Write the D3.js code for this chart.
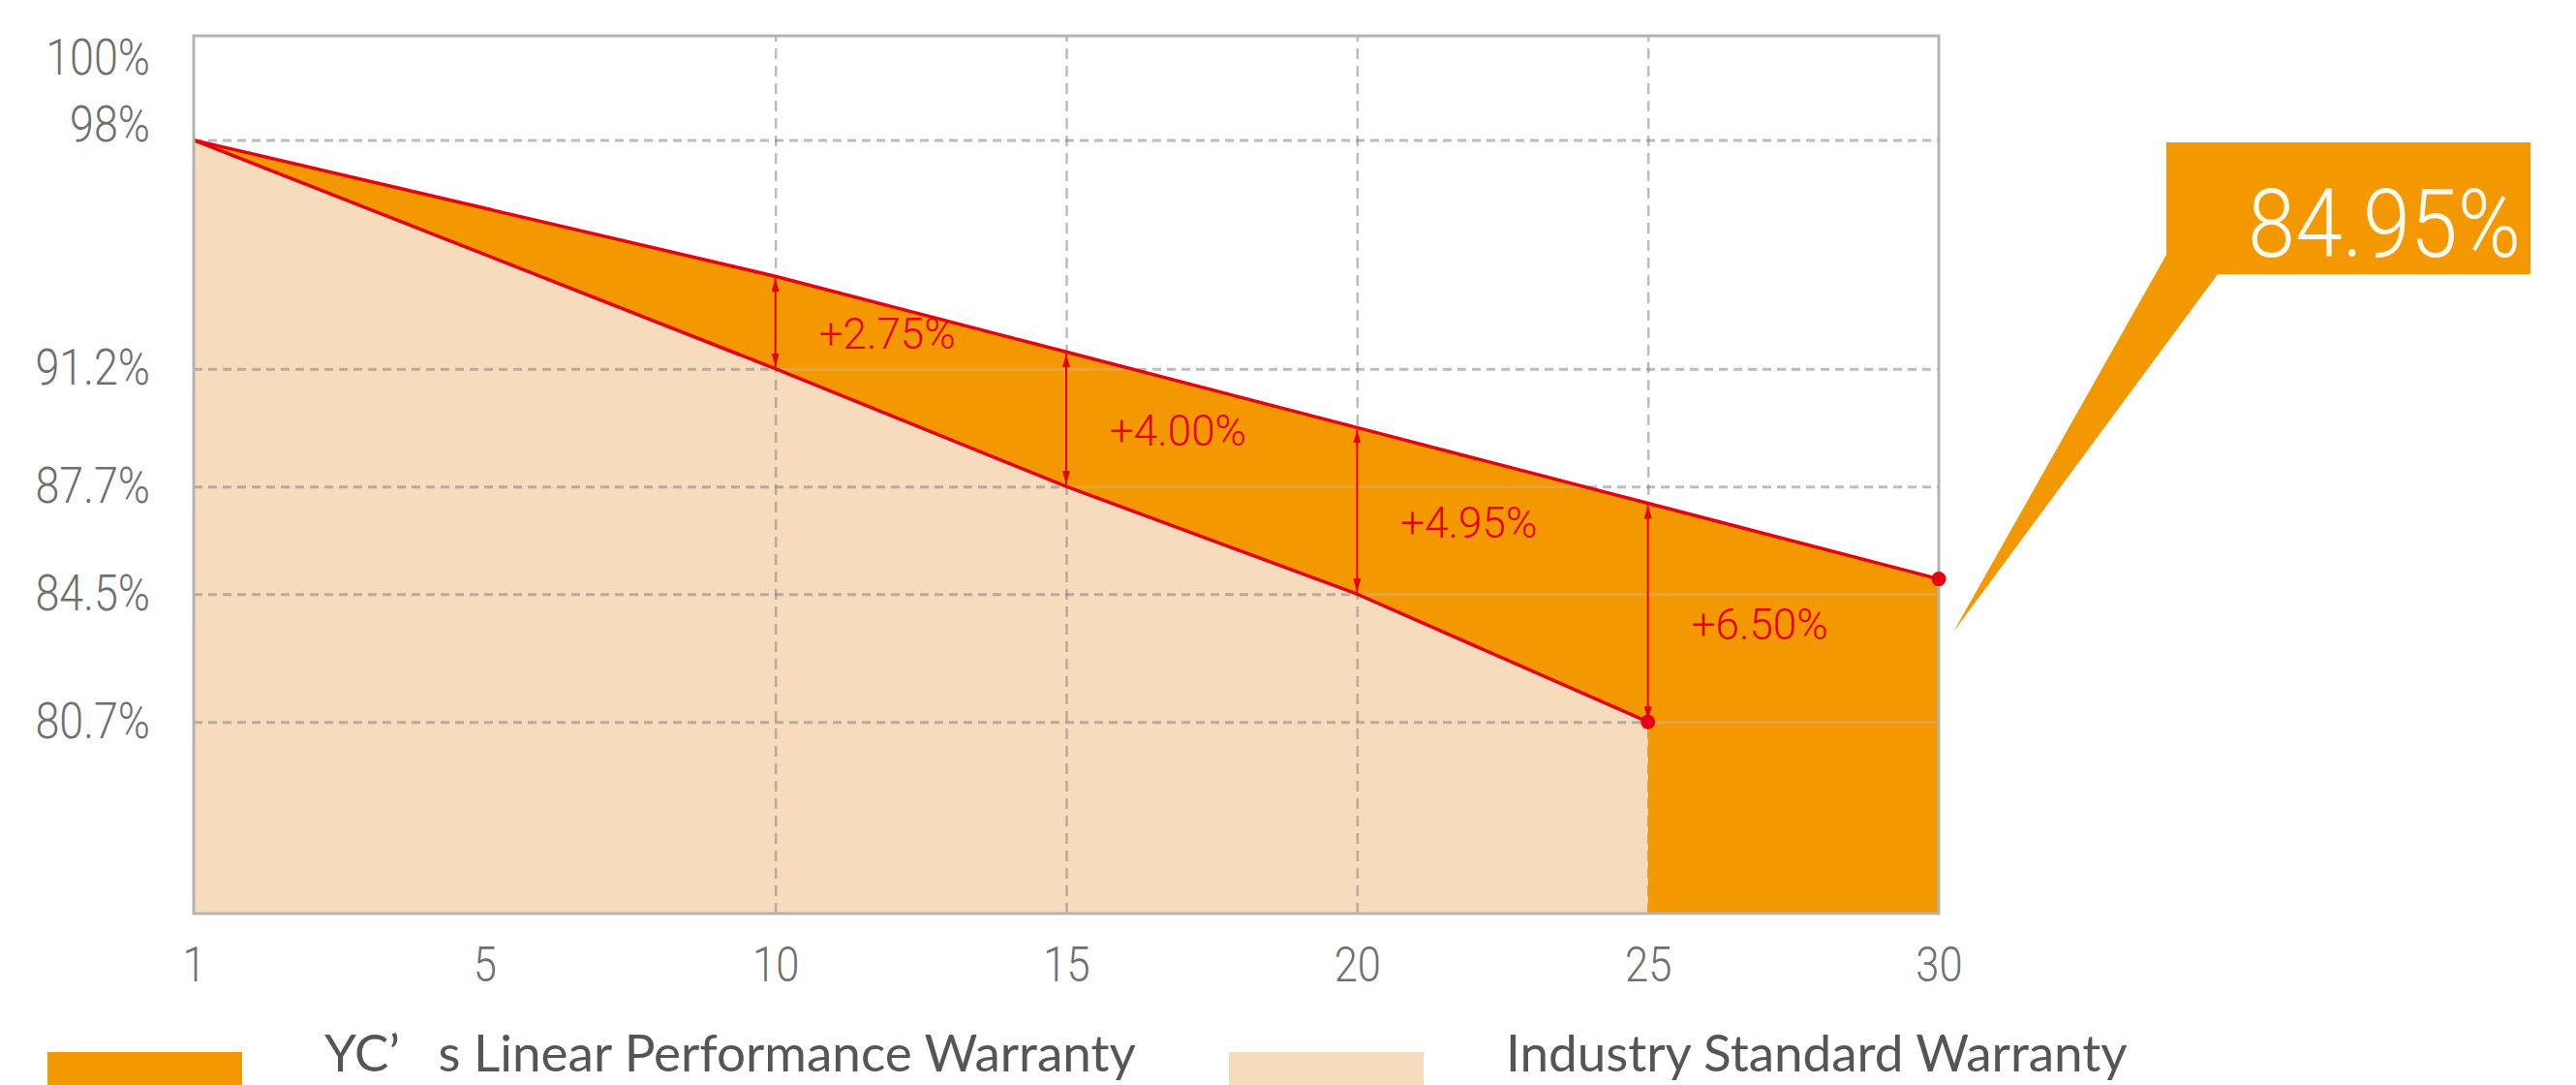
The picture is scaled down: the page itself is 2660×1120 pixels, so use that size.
<!DOCTYPE html>
<html>
<head>
<meta charset="utf-8">
<script src="https://cdn.jsdelivr.net/npm/d3@7"></script>
<style>
  html, body { margin: 0; padding: 0; background: #ffffff; }
  svg { display: block; }
</style>
</head>
<body>
<svg id="chart" width="2660" height="1120"></svg>
<script>
// ---------------- data ----------------
const years = ["1", "5", "10", "15", "20", "25", "30"];
const ycYears = ["1", "10", "15", "20", "25", "30"];
const ycValues = [98, 93.95, 91.7, 89.45, 87.2, 84.95];
const industryYears = ["1", "10", "15", "20", "25"];
const industryValues = [98, 91.2, 87.7, 84.5, 80.7];
const yTickValues = [100, 98, 91.2, 87.7, 84.5, 80.7];
const yGridValues = [98, 91.2, 87.7, 84.5, 80.7];
const xGridYears = ["10", "15", "20", "25"];
const gapYears = ["10", "15", "20", "25"];
const gapLabels = ["+2.75%", "+4.00%", "+4.95%", "+6.50%"];
const calloutLabel = "84.95%";
const legendLabels = ["YC\u2019\u2003s Linear Performance Warranty", "Industry Standard Warranty"];

// ---------------- styling ----------------
const ORANGE = "#F39800";
const PEACH = "#F6DCBC";
const RED = "#E60012";
const TICK_GRAY = "#6f6f6f";
const LEGEND_GRAY = "#555555";

const plot = { left: 200, top: 37, right: 2002, bottom: 943 };

const svg = d3.select("#chart");

const x = d3.scalePoint().domain(years).range([plot.left, plot.right]);
const y = d3.scaleLinear().domain([75, 101.1]).range([plot.bottom, plot.top]);

const yc = ycYears.map((yr, i) => ({ year: yr, v: ycValues[i] }));
const ind = industryYears.map((yr, i) => ({ year: yr, v: industryValues[i] }));
const ycByYear = new Map(yc.map(d => [d.year, d.v]));
const indByYear = new Map(ind.map(d => [d.year, d.v]));

function squeeze(sel, k) {
  sel.each(function () {
    const L = this.getComputedTextLength();
    this.setAttribute("textLength", L * k);
    this.setAttribute("lengthAdjust", "spacingAndGlyphs");
  });
}

// ---------------- industry (peach) area ----------------
const areaInd = d3.area()
  .x(d => x(d.year))
  .y0(plot.bottom)
  .y1(d => y(d.v));
svg.append("path")
  .datum(ind)
  .attr("d", areaInd)
  .attr("fill", PEACH);

// ---------------- gridlines ----------------
function drawGrid(opacity) {
  const gridG = svg.append("g");
  gridG.append("g")
    .attr("transform", `translate(${plot.left},0)`)
    .call(d3.axisLeft(y).tickValues(yGridValues).tickSize(-(plot.right - plot.left)).tickFormat(""))
    .call(g => g.select(".domain").remove())
    .call(g => g.selectAll("line")
      .attr("stroke", "#7a7a7a")
      .attr("stroke-opacity", opacity)
      .attr("stroke-width", 3)
      .attr("stroke-dasharray", "9,6"));
  gridG.append("g")
    .attr("transform", `translate(0,${plot.bottom})`)
    .call(d3.axisBottom(x).tickValues(xGridYears).tickSize(-(plot.bottom - plot.top)).tickFormat(""))
    .call(g => g.select(".domain").remove())
    .call(g => g.selectAll("line")
      .attr("stroke", "#7a7a7a")
      .attr("stroke-opacity", opacity)
      .attr("stroke-width", 2.5)
      .attr("stroke-dasharray", "11,7"));
}
drawGrid(0.5);

// ---------------- YC advantage band (orange) ----------------
const lastInd = ind[ind.length - 1];
const lastYc = yc[yc.length - 1];
const bandPts = [];
yc.forEach(d => bandPts.push([x(d.year), y(d.v)]));
bandPts.push([x(lastYc.year), plot.bottom]);
bandPts.push([x(lastInd.year), plot.bottom]);
ind.slice().reverse().forEach(d => bandPts.push([x(d.year), y(d.v)]));
svg.append("path")
  .attr("d", d3.line()(bandPts) + "Z")
  .attr("fill", ORANGE);

// faint gridlines over the orange band
const clip = svg.append("defs").append("clipPath").attr("id", "bandClip");
clip.append("path").attr("d", d3.line()(bandPts) + "Z");
const faint = svg.append("g").attr("clip-path", "url(#bandClip)");
faint.append("g")
  .attr("transform", `translate(${plot.left},0)`)
  .call(d3.axisLeft(y).tickValues(yGridValues).tickSize(-(plot.right - plot.left)).tickFormat(""))
  .call(g => g.select(".domain").remove())
  .call(g => g.selectAll("line")
    .attr("stroke", "#d9b07a").attr("stroke-opacity", 0.5)
    .attr("stroke-width", 3));

// ---------------- red lines ----------------
const line = d3.line().x(d => x(d.year)).y(d => y(d.v));
svg.append("path").datum(yc).attr("d", line)
  .attr("fill", "none").attr("stroke", RED).attr("stroke-width", 3.5).attr("stroke-linejoin", "round");
svg.append("path").datum(ind).attr("d", line)
  .attr("fill", "none").attr("stroke", RED).attr("stroke-width", 3.5).attr("stroke-linejoin", "round");

// ---------------- arrows ----------------
const defs = svg.append("defs");
defs.append("marker")
  .attr("id", "arrow")
  .attr("viewBox", "0 0 14 8")
  .attr("refX", 14).attr("refY", 4)
  .attr("markerWidth", 14).attr("markerHeight", 8)
  .attr("markerUnits", "userSpaceOnUse")
  .attr("orient", "auto-start-reverse")
  .append("path")
  .attr("d", "M0,0 L14,4 L0,8 Z")
  .attr("fill", RED);

svg.append("g").selectAll("line")
  .data(gapYears)
  .join("line")
  .attr("x1", d => x(d)).attr("x2", d => x(d))
  .attr("y1", d => y(ycByYear.get(d)) + 2)
  .attr("y2", d => y(indByYear.get(d)) - 2)
  .attr("stroke", RED)
  .attr("stroke-width", 2)
  .attr("marker-start", "url(#arrow)")
  .attr("marker-end", "url(#arrow)");

// gap labels
svg.append("g").selectAll("text")
  .data(gapYears)
  .join("text")
  .attr("x", d => x(d) + 45)
  .attr("y", d => (y(ycByYear.get(d)) + y(indByYear.get(d))) / 2 + 12)
  .attr("dy", "0.35em")
  .attr("font-family", "Roboto, 'Noto Sans', sans-serif")
  .attr("font-weight", 300)
  .attr("font-size", 44)
  .attr("fill", RED)
  .text((d, i) => gapLabels[i]);

// ---------------- frame ----------------
svg.append("rect")
  .attr("x", plot.left).attr("y", plot.top)
  .attr("width", plot.right - plot.left).attr("height", plot.bottom - plot.top)
  .attr("fill", "none").attr("stroke", "#b3b3b3").attr("stroke-width", 3);

// dots
svg.append("circle").attr("cx", x(lastInd.year)).attr("cy", y(lastInd.v)).attr("r", 7.5).attr("fill", RED);
svg.append("circle").attr("cx", x(lastYc.year)).attr("cy", y(lastYc.v)).attr("r", 7.5).attr("fill", RED);

// ---------------- axes ----------------
const yAxisG = svg.append("g")
  .attr("transform", `translate(${plot.left},0)`)
  .call(d3.axisLeft(y).tickValues(yTickValues).tickSize(0).tickPadding(45).tickFormat(d => d + "%"));
yAxisG.select(".domain").remove();
yAxisG.selectAll("text")
  .attr("font-family", "Roboto, 'Noto Sans', sans-serif")
  .attr("font-weight", 300)
  .attr("font-size", 51)
  .attr("fill", TICK_GRAY)
  .attr("y", d => d >= 98 ? -15 : 0)
  .call(squeeze, 0.88);

const xAxisG = svg.append("g")
  .attr("transform", `translate(0,${plot.bottom})`)
  .call(d3.axisBottom(x).tickSize(0).tickPadding(34));
xAxisG.select(".domain").remove();
xAxisG.selectAll("text")
  .attr("font-family", "Roboto, 'Noto Sans', sans-serif")
  .attr("font-weight", 300)
  .attr("font-size", 50)
  .attr("fill", TICK_GRAY)
  .call(squeeze, 0.87);

// ---------------- callout ----------------
const px = x(lastYc.year), py = y(lastYc.v);
const box = { x: 2237, y: 147, w: 376, h: 136 };
const tip = [px + 15, py + 55];
const calloutPts = [
  [box.x, box.y], [box.x + box.w, box.y], [box.x + box.w, box.y + box.h],
  [box.x + 53, box.y + box.h], tip, [box.x, box.y + box.h - 20]
];
svg.append("path")
  .attr("d", d3.line()(calloutPts) + "Z")
  .attr("fill", ORANGE);
svg.append("text")
  .attr("x", box.x + box.w - 10)
  .attr("y", box.y + box.h - 18)
  .attr("text-anchor", "end")
  .attr("font-family", "Roboto, 'Noto Sans', sans-serif")
  .attr("font-weight", 300)
  .attr("font-size", 98)
  .attr("fill", "#FFFBF0")
  .text(calloutLabel)
  .call(squeeze, 0.9);

// ---------------- legend ----------------
const legendColors = [ORANGE, PEACH];
const legendX = [49, 1269];
const lg = svg.append("g");
legendLabels.forEach((lab, i) => {
  lg.append("rect")
    .attr("x", legendX[i]).attr("y", 1086)
    .attr("width", 201).attr("height", 34)
    .attr("fill", legendColors[i]);
  lg.append("text")
    .attr("x", legendX[i] + 286)
    .attr("y", 1106)
    .attr("font-family", "Lato, 'Open Sans', sans-serif")
    .attr("font-size", 53)
    .attr("fill", LEGEND_GRAY)
    .text(lab);
});
</script>
</body>
</html>
